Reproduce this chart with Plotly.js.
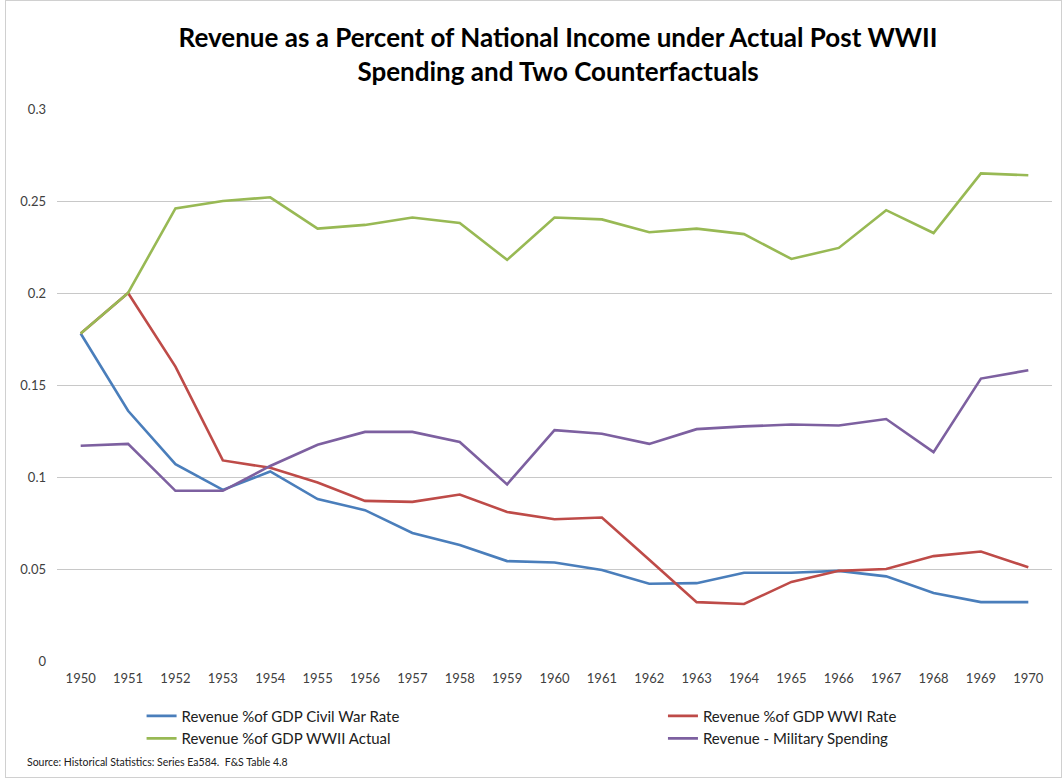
<!DOCTYPE html>
<html>
<head>
<meta charset="utf-8">
<script src="https://cdn.plot.ly/plotly-3.0.1.min.js"></script>
<style>
  html, body { margin: 0; padding: 0; background: #fff; }
  #chart { width: 1063px; height: 779px; position: relative; }
  #frame { position: absolute; left: 5px; top: 0; width: 1057px; height: 778px; border: 1px solid #d0d0d0; box-sizing: border-box; pointer-events: none; }
</style>
</head>
<body>
<div id="chart"></div>
<div id="frame"></div>
<script>
const years = [1950,1951,1952,1953,1954,1955,1956,1957,1958,1959,1960,1961,1962,1963,1964,1965,1966,1967,1968,1969,1970];
const civilWarRate = [0.178,0.136,0.107,0.093,0.103,0.088,0.082,0.0696,0.063,0.0543,0.0535,0.0495,0.042,0.0423,0.048,0.048,0.049,0.046,0.037,0.032,0.032];
const wwiRate = [0.178,0.200,0.160,0.109,0.105,0.097,0.087,0.0865,0.0905,0.081,0.077,0.078,0.055,0.032,0.031,0.043,0.049,0.050,0.057,0.0595,0.051];
const wwiiActual = [0.178,0.200,0.246,0.250,0.252,0.235,0.237,0.241,0.238,0.218,0.241,0.240,0.233,0.235,0.232,0.2185,0.2245,0.245,0.2326,0.265,0.264];
const militarySpending = [0.117,0.118,0.0925,0.0925,0.106,0.1175,0.1245,0.1245,0.119,0.096,0.1255,0.1235,0.118,0.126,0.1275,0.1285,0.128,0.1315,0.1135,0.1535,0.158];
const seriesNames = ["Revenue %of GDP Civil War Rate","Revenue %of GDP WWI Rate","Revenue %of GDP WWII Actual","Revenue - Military Spending"];
const yTicks = [0,0.05,0.1,0.15,0.2,0.25,0.3];
const yTickLabels = ["0","0.05","0.1","0.15","0.2","0.25","0.3"];

const colors = ["#4a7ebb","#be4b48","#98b954","#7d60a0"];
const legendIds = ["legend","legend2","legend","legend2"];
const seriesData = [civilWarRate, wwiRate, wwiiActual, militarySpending];

const traces = seriesData.map((vals, i) => ({
  type: "scatter",
  mode: "lines",
  x: years,
  y: vals,
  name: seriesNames[i],
  legend: legendIds[i],
  line: { color: colors[i], width: 2.6 }
}));

const font = "Lato, 'Liberation Sans', sans-serif";
const legendFont = { family: font, size: 15, color: "#202020" };

const layout = {
  width: 1063,
  height: 779,
  paper_bgcolor: "rgba(0,0,0,0)",
  plot_bgcolor: "#ffffff",
  margin: { l: 57, r: 11, t: 109, b: 118, autoexpand: false },
  title: {
    text: "<b>Revenue as a Percent of National Income under Actual Post WWII<br>Spending and Two Counterfactuals</b>",
    font: { family: font, size: 26, color: "#000000" },
    x: 0.525, xanchor: "center",
    y: 0.94, yanchor: "top"
  },
  xaxis: {
    range: [1949.5, 1970.5],
    tickmode: "array",
    tickvals: years,
    ticktext: years.map(String),
    showgrid: false,
    zeroline: false,
    showline: false,
    ticks: "",
    ticklabelstandoff: 8,
    tickfont: { family: font, size: 13, color: "#404040" },
    fixedrange: true
  },
  yaxis: {
    range: [0, 0.3],
    tickmode: "array",
    tickvals: yTicks,
    ticktext: yTickLabels,
    showgrid: true,
    gridcolor: "#c8c8c8",
    gridwidth: 1,
    zeroline: false,
    showline: false,
    ticks: "",
    ticklabelstandoff: 10,
    tickfont: { family: font, size: 13, color: "#404040" },
    fixedrange: true
  },
  showlegend: true,
  legend: {
    orientation: "v",
    x: 0.085, xanchor: "left",
    y: -0.07, yanchor: "top",
    tracegroupgap: 0,
    itemwidth: 30,
    font: legendFont,
    bgcolor: "rgba(0,0,0,0)"
  },
  legend2: {
    orientation: "v",
    x: 0.609, xanchor: "left",
    y: -0.07, yanchor: "top",
    tracegroupgap: 0,
    itemwidth: 30,
    font: legendFont,
    bgcolor: "rgba(0,0,0,0)"
  },
  annotations: [{
    text: "Source: Historical Statistics: Series Ea584.  F&S Table 4.8",
    xref: "paper", yref: "paper",
    x: -0.032, xanchor: "left",
    y: -0.183, yanchor: "middle",
    showarrow: false,
    font: { family: font, size: 10.5, color: "#202020" }
  }]
};

Plotly.newPlot("chart", traces, layout, { staticPlot: true, displayModeBar: false });
</script>
</body>
</html>
